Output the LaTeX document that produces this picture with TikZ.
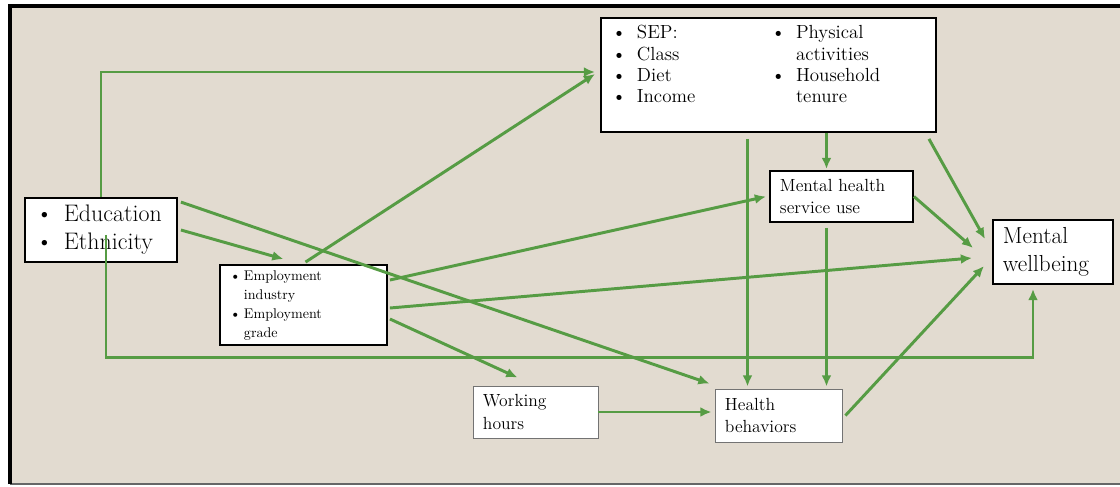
\documentclass[tikz,border=0pt]{standalone}
\usepackage{tikz}
\usetikzlibrary{arrows.meta, calc}

\definecolor{paper}{RGB}{226,219,208}
\definecolor{arrowgreen}{RGB}{86,156,68}

\begin{document}
\begin{tikzpicture}[
    x=0.025cm, y=-0.025cm,
    box/.style={
        draw=black,
        line width=1.3pt,
        fill=white,
        align=left,
        inner ysep=0pt,
        inner xsep=0.25cm
    },
    plainbox/.style={
        draw=black!55,
        line width=0.6pt,
        fill=white,
        align=left,
        inner ysep=0pt,
        inner xsep=0.25cm
    },
    flow/.style={
        draw=arrowgreen,
        line width=2.1pt,
        -{Latex[length=8pt, width=7pt]}
    }
]

\useasboundingbox (0,0) rectangle (1120,487);
\fill[paper] (10,6) rectangle (1120,484);
\draw[black!60, line width=1.2pt] (10,484) -- (1120,484);
\draw[black, line width=2.2pt] (10,484) -- (10,6) -- (1120,6);

\node[box, text width=3.25cm, inner xsep=0.275cm, minimum height=1.6cm,
    font=\fontsize{17}{19.5}\selectfont] (edu) at (101,230)
    {\begin{tabular}{@{}p{0.7cm}@{}l@{}}
    \textbullet & Education\\
    \textbullet & Ethnicity
    \end{tabular}};
\node[box, text width=3.675cm, minimum height=2cm,
    font=\fontsize{10}{13.5}\selectfont] (emp) at (303.5,305)
    {\begin{tabular}{@{}p{0.35cm}@{}l@{}}
    \textbullet & Employment\\
     & industry\\
    \textbullet & Employment\\
     & grade
    \end{tabular}};
\node[box, text width=7.825cm, inner xsep=0.275cm, minimum height=2.85cm,
    font=\fontsize{13.5}{15.2}\selectfont] (sep) at (768.5,75)
    {\begin{tabular}{@{}p{0.625cm}@{}p{3.35cm}@{}p{0.625cm}@{}l@{}}
    \textbullet & SEP: & \textbullet & Physical\\
    \textbullet & Class & & activities\\
    \textbullet & Diet & \textbullet & Household\\
    \textbullet & Income & & tenure\\[0.42cm]
    \end{tabular}};
\node[box, text width=3.075cm, minimum height=1.275cm,
    font=\fontsize{12.5}{15.5}\selectfont] (mhs) at (841.5,196.5)
    {Mental health\\service use};
\node[box, text width=2.5cm, minimum height=1.6cm,
    font=\fontsize{16.5}{19.5}\selectfont] (mwb) at (1053,252)
    {Mental\\wellbeing};
\node[plainbox, text width=2.625cm, minimum height=1.3cm,
    font=\fontsize{12.5}{16}\selectfont] (work) at (535.5,412)
    {Working\\hours};
\node[plainbox, text width=2.675cm, minimum height=1.325cm,
    font=\fontsize{12.5}{15}\selectfont] (health) at (778.5,415.5)
    {Health\\behaviors};

\draw[flow] (edu.north) |- ($(sep.west)+(-5,-3)$);
\draw[flow] ($(edu.north east)+(3,5)$) -- ($(health.north west)+(-5,-5)$);
\draw[flow] ($(edu.east)+(3,0)$) -- ($(emp.north)+(-20,-5)$);
\draw[flow] ($(edu.south)+(5,-28)$) -- ++(0,123) -| ($(mwb.south)+(-20,4)$);
\draw[flow] ($(emp.north)+(2,-2)$) -- ($(sep.west)+(-5,-1)$);
\draw[flow] ($(emp.east)+(2,-25)$) -- ($(mhs.west)+(-3,0)$);
\draw[flow] ($(emp.east)+(2,3)$) -- ($(mwb.west)+(-20,6)$);
\draw[flow] ($(emp.east)+(2,14)$) -- ($(work.north)+(-18,-8)$);
\draw[flow] ($(sep.south)+(-21,6)$) -- ($(health.north)+(-31,-2)$);
\draw[flow] ($(sep.south)+(58,0)$) -- ($(mhs.north)+(-15,-1)$);
\draw[flow] ($(sep.south east)+(-8,6)$) -- ($(mwb.north west)+(-7,20)$);
\draw[flow] (mhs.east) -- ($(mwb.west)+(-19,-4)$);
\draw[flow] ($(mhs.south)+(-15,5)$) -- ($(health.north)+(48,-2)$);
\draw[flow] (work.east) -- ($(health.west)+(-3,-3.5)$);
\draw[flow] ($(health.east)+(3,0)$) -- ($(mwb.west)+(-8,14)$);

\end{tikzpicture}
\end{document}
